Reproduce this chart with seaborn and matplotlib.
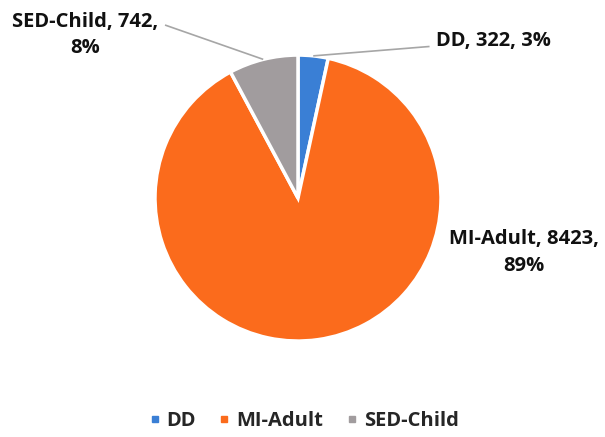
import matplotlib
matplotlib.use("Agg")
import matplotlib.pyplot as plt
import seaborn as sns
import numpy as np
from matplotlib.lines import Line2D

categories = ["DD", "MI-Adult", "SED-Child"]
counts = [322, 8423, 742]
percents = [3, 89, 8]
colors = ["#3A7FD5", "#FB6B1C", "#A19C9E"]

sns.set_theme(style="white")
plt.rcParams["font.family"] = ["Open Sans", "DejaVu Sans"]

fig = plt.figure(figsize=(6.05, 4.37), dpi=100)
ax = fig.add_axes([0, 0, 1, 1])

wedges, _ = ax.pie(counts, colors=colors, startangle=90, counterclock=False,
                   radius=1.0, wedgeprops=dict(edgecolor="white", linewidth=2.5))
ax.set_xlim(-2.084, 2.147)
ax.set_ylim(-1.671, 1.385)
ax.set_aspect("equal")
ax.axis("off")

label_pos = {"DD": (1.37, 1.10), "MI-Adult": (1.58, -0.38), "SED-Child": (-1.49, 1.14)}
line_end = {"DD": (0.92, 1.06), "SED-Child": (-0.93, 1.21)}
label_text = {"DD": "{}, {}, {}%", "MI-Adult": "{}, {},\n{}%", "SED-Child": "{}, {},\n{}%"}

for w, cat, n, p in zip(wedges, categories, counts, percents):
    ang = np.deg2rad((w.theta1 + w.theta2) / 2)
    x0, y0 = np.cos(ang), np.sin(ang)
    tx, ty = label_pos[cat]
    ax.text(tx, ty, label_text[cat].format(cat, n, p), ha="center", va="center",
            fontsize=14.5, fontweight="bold", color="#111111", linespacing=1.45)
    if cat in line_end:
        ex, ey = line_end[cat]
        ax.plot([x0, ex], [y0, ey], color="#A6A6A6", lw=1.2, solid_capstyle="butt")

handles = [Line2D([0], [0], marker="s", linestyle="none", markersize=4.5,
                  markerfacecolor=c, markeredgecolor=c) for c in colors]
fig.legend(handles, categories, loc="center", bbox_to_anchor=(0.5, (437 - 421) / 437),
           ncol=3, frameon=False, handletextpad=0.2, columnspacing=1.0,
           handlelength=0.8, prop=dict(size=14.5, weight="bold"))

fig.savefig("out.png", dpi=100)
